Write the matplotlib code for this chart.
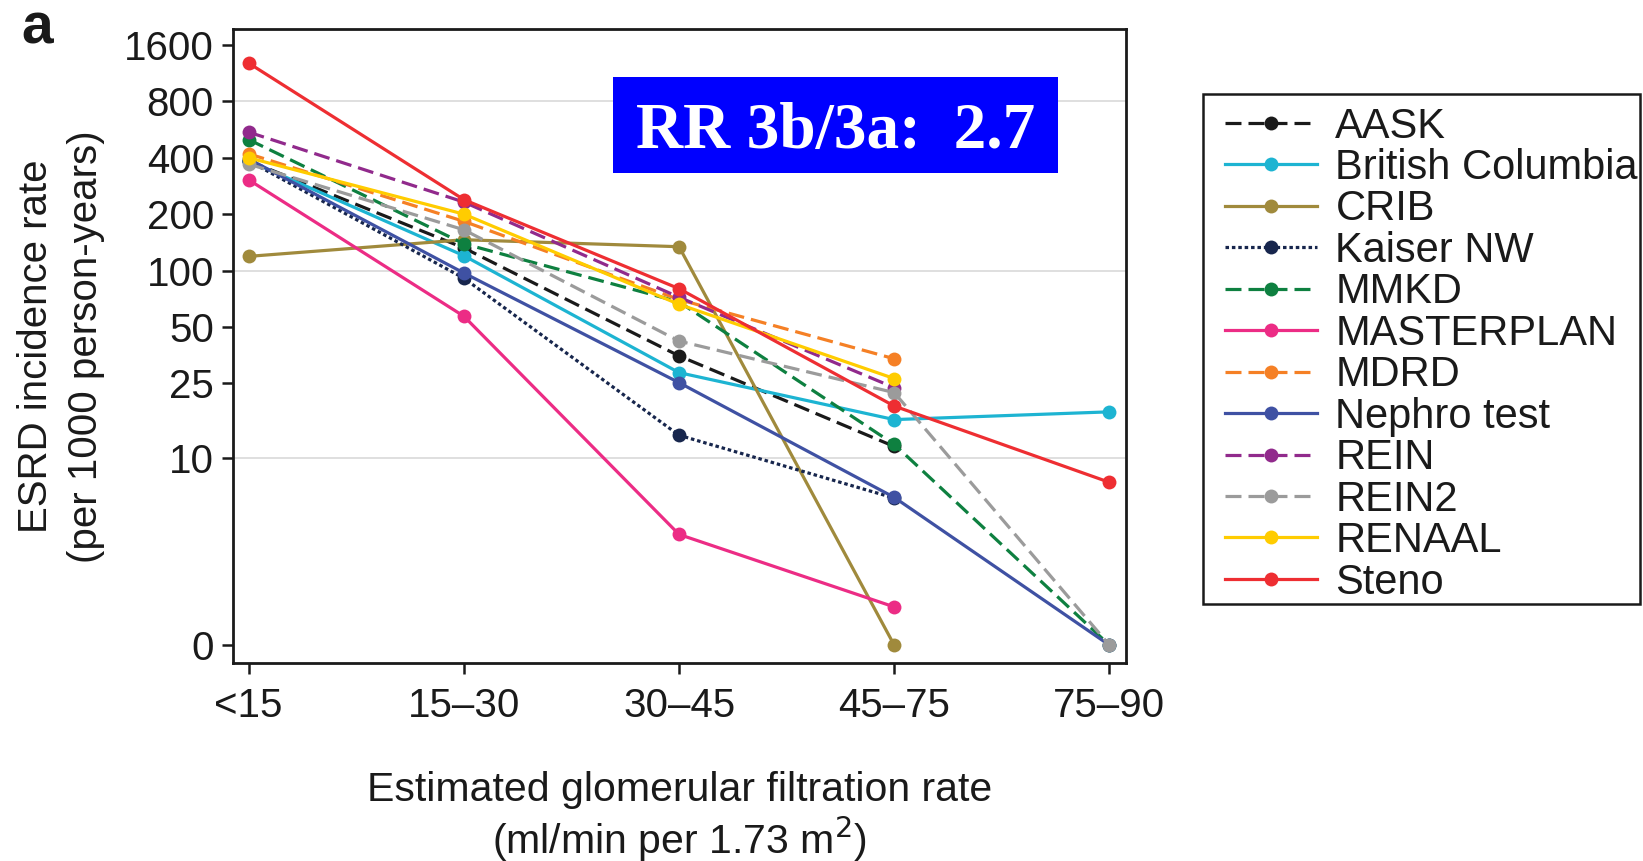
import numpy as np
import matplotlib
matplotlib.use("Agg")
import matplotlib.pyplot as plt
from matplotlib.patches import Rectangle

plt.rcParams['font.family'] = ['Liberation Sans', 'DejaVu Sans']

nan = np.nan

# eGFR categories (ml/min per 1.73 m2)
categories = ['<15', '15\u201330', '30\u201345', '45\u201375', '75\u201390']

# ESRD incidence per 1000 person-years by cohort (nan = category not reported)
aask = [385, 132, 35, 11.5, nan]
british_columbia = [385, 120, 28.5, 16, 17.6]
crib = [119, 146, 134, 0, nan]
kaiser_nw = [385, 91, 13.2, 6.1, nan]
mmkd = [500, 139, 68, 11.8, 0]
masterplan = [305, 57, 3.9, 1.6, nan]
mdrd = [420, 183, 70, 33.8, nan]
nephro_test = [394, 97, 25.2, 6.15, 0]
rein = [548, 232, 72, 23.7, nan]
rein2 = [370, 165, 42, 22.3, 0]
renaal = [400, 200, 66, 26.5, nan]
steno = [1280, 239, 80, 18.9, 7.4]

# y-axis tick values and their labels; a rate of zero sits at position 1 on the log axis
ytick_values = [0, 10, 25, 50, 100, 200, 400, 800, 1600]
ytick_labels = ['0', '10', '25', '50', '100', '200', '400', '800', '1600']
ZERO_POS = 1.0

DASH = (0, (5.0, 2.2))
DOT = (0, (1.1, 0.9))
series = [
    ('AASK', aask, '#1a1a1a', DASH),
    ('British Columbia', british_columbia, '#1db4d2', '-'),
    ('CRIB', crib, '#a08a3c', '-'),
    ('Kaiser NW', kaiser_nw, '#17264d', DOT),
    ('MMKD', mmkd, '#0e8040', DASH),
    ('MASTERPLAN', masterplan, '#ec2c85', '-'),
    ('MDRD', mdrd, '#f58025', DASH),
    ('Nephro test', nephro_test, '#3f51a3', '-'),
    ('REIN', rein, '#912a8c', DASH),
    ('REIN2', rein2, '#9b9b9b', DASH),
    ('RENAAL', renaal, '#ffcc00', '-'),
    ('Steno', steno, '#ee2e32', '-'),
]


def to_axis(values):
    v = np.asarray(values, dtype=float)
    return np.where(v == 0, ZERO_POS, v)


W, H = 1643, 861
fig = plt.figure(figsize=(W / 100, H / 100), dpi=100)
ax = fig.add_axes([233.4 / W, 1 - 663.3 / H, (1126 - 233.4) / W, (663.3 - 29.3) / H])

x = np.arange(len(categories))
for name, vals, color, ls in series:
    ax.plot(x, to_axis(vals), color=color, linestyle=ls, linewidth=2.3,
            marker='o', markersize=10, markeredgewidth=0, label=name)

ax.set_yscale('log')
ax.set_ylim(0.80, 1940)
ax.set_xlim(-0.071, 4.077)

ax.set_yticks(to_axis(ytick_values))
ax.set_yticklabels(ytick_labels)
ax.yaxis.set_minor_locator(matplotlib.ticker.NullLocator())
ax.set_xticks(x)
ax.set_xticklabels(categories)

for v in (800, 100, 10):
    ax.axhline(v, color='#d9d9d9', linewidth=1.2, zorder=0)

ax.tick_params(axis='both', which='major', labelsize=29, length=8, width=1.8,
               direction='out', color='#1a1a1a', labelcolor='#1a1a1a')
ax.tick_params(axis='y', pad=6)
ax.tick_params(axis='x', pad=9)
for sp in ax.spines.values():
    sp.set_linewidth(2.0)
    sp.set_color('#1a1a1a')

ax.set_ylabel('ESRD incidence rate\n(per 1000 person-years)', fontsize=29,
              linespacing=1.38, color='#1a1a1a', labelpad=14)
ax.set_xlabel('Estimated glomerular filtration rate\n(ml/min per 1.73 m$^2$)',
              fontsize=29.5, linespacing=1.15, color='#1a1a1a', labelpad=33)

# Panel letter
fig.text(21 / W, 1 - 43 / H, 'a', fontsize=41, fontweight='bold',
         ha='left', va='baseline', color='#1a1a1a')

# Rate-ratio banner
fig.add_artist(Rectangle((613 / W, 1 - 173 / H), (1058 - 613) / W, (173 - 77) / H,
                         transform=fig.transFigure, facecolor='#0000ff',
                         edgecolor='none', zorder=5))
fig.text(835.5 / W, 1 - 148 / H, 'RR 3b/3a:  2.7', fontsize=47, fontweight='bold',
         family='Liberation Serif', color='white', ha='center', va='baseline',
         zorder=6)

# Legend entries, with a separate border box around them
leg = ax.legend(loc='upper left', bbox_to_anchor=(1225 / W, 1 - 106.5 / H),
                bbox_transform=fig.transFigure, borderaxespad=0, fontsize=30,
                frameon=False, handlelength=2.2, handletextpad=0.45,
                labelspacing=0.035, borderpad=0)
for t in leg.get_texts():
    t.set_color('#1a1a1a')
fig.add_artist(Rectangle((1203 / W, 1 - 604 / H), (1640 - 1203) / W, (604 - 94) / H,
                         transform=fig.transFigure, facecolor='none',
                         edgecolor='#1a1a1a', linewidth=1.8))

fig.savefig('out.png', dpi=100)
